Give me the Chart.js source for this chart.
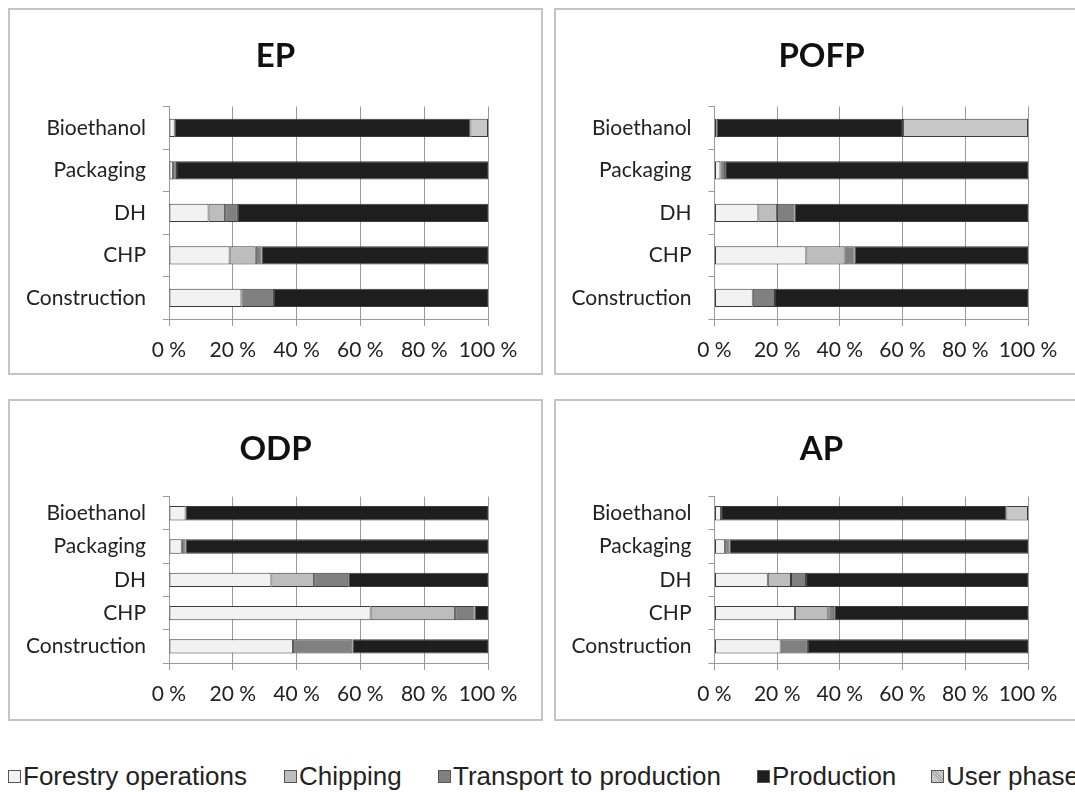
<!DOCTYPE html>
<html><head><meta charset="utf-8">
<script src="https://cdn.jsdelivr.net/npm/chart.js@4"></script>
<style>
html,body{margin:0;padding:0;background:#fff;width:1075px;height:792px;overflow:hidden;position:relative}
.panel{position:absolute}
.panel canvas{position:absolute;left:0;top:0}
.frame{position:absolute;border:2px solid #c4c4c4;box-sizing:border-box;pointer-events:none}
.legend{position:absolute;left:0;top:758px;width:1300px;height:36px;font-family:"Liberation Sans",Arial,sans-serif;font-size:26px;color:#222;white-space:nowrap}
.item{position:absolute;top:0;line-height:36px}
.sw{display:inline-block;width:11px;height:11px;border:1px solid #555;margin-right:2px;vertical-align:middle;position:relative;top:-2px}
</style>
</head><body>
<div id="root"></div>
<div class="legend" id="legend"></div>
<script>
// ---- data ----
const categories = ['Bioethanol','Packaging','DH','CHP','Construction'];
const seriesNames = ['Forestry operations','Chipping','Transport to production','Production','User phase'];
const xTickLabels = ['0 %','20 %','40 %','60 %','80 %','100 %'];
const panelTitles = ['EP','POFP','ODP','AP'];

const epForestry   = [1.8, 1.3, 12.4, 19.0, 22.7];
const epChipping   = [null, null, 5.2, 8.2, null];
const epTransport  = [null, 1.2, 4.0, 1.8, 10.2];
const epProduction = [92.7, 97.5, 78.4, 71.0, 67.1];
const epUser       = [5.5, null, null, null, null];

const pofpForestry   = [0.7, 1.9, 14.0, 29.3, 12.2];
const pofpChipping   = [null, null, 5.9, 12.2, null];
const pofpTransport  = [null, 1.5, 5.6, 3.2, 7.1];
const pofpProduction = [59.4, 96.6, 74.5, 55.3, 80.7];
const pofpUser       = [39.9, null, null, null, null];

const odpForestry   = [5.2, 4.0, 32.1, 63.2, 38.9];
const odpChipping   = [null, null, 13.4, 26.5, null];
const odpTransport  = [null, 1.2, 10.7, 6.1, 18.6];
const odpProduction = [94.8, 94.8, 43.8, 4.2, 42.5];
const odpUser       = [null, null, null, null, null];

const apForestry   = [2.1, 3.4, 17.0, 25.7, 21.1];
const apChipping   = [null, null, 7.4, 10.6, null];
const apTransport  = [null, 1.4, 4.8, 1.9, 8.7];
const apProduction = [91.0, 95.2, 70.8, 61.8, 70.2];
const apUser       = [6.9, null, null, null, null];

// ---- styles ----
const fills = ['#f2f2f2','#bdbdbd','#808080','#1e1e1e','#c8c8c8'];
const gridCol = '#9a9a9a';

const panels = [
  {title:panelTitles[0], series:[epForestry,epChipping,epTransport,epProduction,epUser], left:8, top:8, w:535, h:367, yw:161, pr:55, xh:50, pb:6, tt:29, tb:30},
  {title:panelTitles[1], series:[pofpForestry,pofpChipping,pofpTransport,pofpProduction,pofpUser], left:554, top:8, w:535, h:367, yw:160.5, pr:61, xh:50, pb:6, tt:29, tb:30},
  {title:panelTitles[2], series:[odpForestry,odpChipping,odpTransport,odpProduction,odpUser], left:8, top:399, w:535, h:322, yw:161, pr:55, xh:50, pb:8, tt:31, tb:27},
  {title:panelTitles[3], series:[apForestry,apChipping,apTransport,apProduction,apUser], left:554, top:399, w:535, h:322, yw:160.5, pr:61, xh:50, pb:8, tt:31, tb:27}
];

const root = document.getElementById('root');
panels.forEach(p => {
  const div = document.createElement('div');
  div.className = 'panel';
  div.style.left = p.left + 'px'; div.style.top = p.top + 'px';
  div.style.width = p.w + 'px'; div.style.height = p.h + 'px';
  const cv = document.createElement('canvas');
  cv.width = p.w; cv.height = p.h;
  cv.style.width = p.w + 'px'; cv.style.height = p.h + 'px';
  div.appendChild(cv);
  root.appendChild(div);
  const fr = document.createElement('div');
  fr.className = 'frame';
  fr.style.left = p.left + 'px'; fr.style.top = p.top + 'px';
  fr.style.width = p.w + 'px'; fr.style.height = p.h + 'px';
  root.appendChild(fr);

  new Chart(cv, {
    type: 'bar',
    data: {
      labels: categories,
      datasets: seriesNames.map((n, i) => ({
        label: n, data: p.series[i], backgroundColor: fills[i],
        borderColor: '#3c3c3c', borderWidth: 1, borderSkipped: false,
        categoryPercentage: 1, barPercentage: 0.43
      }))
    },
    options: {
      indexAxis: 'y', responsive: false, animation: false, devicePixelRatio: 1,
      layout: {padding: {left: 0, right: 0, top: 0, bottom: p.pb}},
      plugins: {
        legend: {display: false}, tooltip: {enabled: false},
        title: {display: true, text: p.title, color: '#111',
          font: {family: 'Lato', size: 33, weight: 'bold', lineHeight: 1.2},
          padding: {top: p.tt, bottom: p.tb}}
      },
      scales: {
        x: {
          stacked: true, min: 0, max: 100,
          afterFit: s => { s.height = p.xh; },
          afterBuildTicks: s => { s.ticks = xTickLabels.map((t, i) => ({value: i * 20})); },
          ticks: {callback: (v, i) => xTickLabels[i], color: '#222', padding: 12,
            font: {family: 'Lato', size: 21}, maxRotation: 0, autoSkip: false},
          grid: {color: gridCol, lineWidth: 1, tickLength: 7, drawTicks: true},
          border: {color: gridCol, width: 1}
        },
        y: {
          stacked: true,
          afterFit: s => { s.width = p.yw; },
          ticks: {color: '#222', padding: 17, font: {family: 'Lato', size: 21}, autoSkip: false},
          grid: {drawOnChartArea: false, offset: true, tickLength: 6, color: gridCol},
          border: {color: gridCol, width: 1}
        },
        yRight: {
          type: 'category', position: 'right', display: true,
          afterFit: s => { s.width = p.pr; },
          ticks: {display: false}, grid: {display: false}, border: {display: false}
        }
      }
    }
  });
});

// legend
const legendPos = [8, 284, 438, 757, 931];
const lg = document.getElementById('legend');
seriesNames.forEach((n, i) => {
  const it = document.createElement('span');
  it.className = 'item';
  it.style.left = legendPos[i] + 'px';
  const sw = document.createElement('span');
  sw.className = 'sw';
  sw.style.background = fills[i];
  if (i === 4) sw.style.background = 'repeating-linear-gradient(45deg,#d8d8d8 0 1px,#a8a8a8 1px 2px)';
  it.appendChild(sw);
  it.appendChild(document.createTextNode(n));
  lg.appendChild(it);
});
</script>
</body></html>
